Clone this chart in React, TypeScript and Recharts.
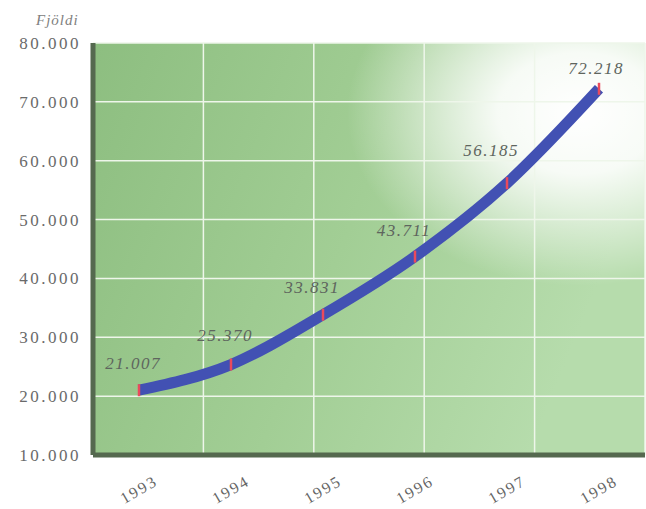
import {
  CartesianGrid,
  LabelList,
  Line,
  LineChart,
  XAxis,
  YAxis,
} from "recharts";

const years = ["1993", "1994", "1995", "1996", "1997", "1998"];
const passengers = [21007, 25370, 33831, 43711, 56185, 72218];
const yTicks = [10000, 20000, 30000, 40000, 50000, 60000, 70000, 80000];
const gridSlots = [0, 1, 2, 3, 4, 5, 6];
// nudges for the value labels, same order as years
const labelShift = [
  [-6, -21],
  [-6, -24],
  [-11, -22],
  [-11, -21],
  [-16, -27],
  [-3, -15],
];

const data = years.map((year, i) => ({ year, value: passengers[i] }));

const SERIF = "Liberation Serif, serif";

function fmt(v: number): string {
  return String(v).replace(/\B(?=(\d{3})+(?!\d))/g, ".");
}

function YTick({ x, y, payload }: any) {
  return (
    <text
      x={x}
      y={y}
      dy={6}
      textAnchor="end"
      fill="#6a6a6a"
      fontSize={17}
      fontFamily={SERIF}
      letterSpacing={2.5}
    >
      {fmt(payload.value)}
    </text>
  );
}

function XTick({ x, y, payload }: any) {
  const ty = y + 27;
  return (
    <text
      x={x}
      y={ty}
      dy={5}
      textAnchor="middle"
      fill="#666"
      fontSize={16}
      fontFamily={SERIF}
      letterSpacing={2}
      transform={`rotate(-30, ${x}, ${ty})`}
    >
      {payload.value}
    </text>
  );
}

function Marker({ cx, cy, index }: any) {
  if (cx == null || cy == null) return null;
  return (
    <line
      key={`m-${index}`}
      x1={cx}
      x2={cx}
      y1={cy - 6}
      y2={cy + 6}
      stroke="#ea4a5c"
      strokeWidth={2.5}
    />
  );
}

function ValueLabel({ x, y, value, index }: any) {
  const [dx, dy] = labelShift[index] ?? [0, -20];
  return (
    <text
      x={x + dx}
      y={y + dy}
      textAnchor="middle"
      fill="#5e655e"
      fontSize={17}
      fontStyle="italic"
      fontFamily={SERIF}
      letterSpacing={1.5}
    >
      {fmt(Number(value))}
    </text>
  );
}

export default function App() {
  return (
    <div
      style={{
        position: "absolute",
        left: 0,
        top: 0,
        width: 646,
        height: 509,
        background: "#ffffff",
      }}
    >
      <div
        style={{
          position: "absolute",
          left: 36,
          top: 12,
          fontFamily: SERIF,
          fontStyle: "italic",
          fontSize: 15,
          color: "#808080",
          letterSpacing: 1,
        }}
      >
        Fjöldi
      </div>
      <LineChart
        width={646}
        height={509}
        data={data}
        margin={{ top: 43, right: 1, left: 0, bottom: 0 }}
      >
        <defs>
          <linearGradient id="plotBg" x1="0" y1="0" x2="1" y2="0.3">
            <stop offset="0%" stopColor="#8dbe80" />
            <stop offset="55%" stopColor="#a2ce95" />
            <stop offset="100%" stopColor="#b6dcac" />
          </linearGradient>
          <radialGradient id="glow" cx="0.88" cy="0.17" r="0.42">
            <stop offset="0%" stopColor="#ffffff" stopOpacity={1} />
            <stop offset="35%" stopColor="#ffffff" stopOpacity={0.9} />
            <stop offset="100%" stopColor="#ffffff" stopOpacity={0} />
          </radialGradient>
        </defs>
        <CartesianGrid
          xAxisId="grid"
          fill="url(#plotBg)"
          horizontal={false}
          vertical={false}
        />
        <CartesianGrid
          xAxisId="grid"
          fill="url(#glow)"
          fillOpacity={1}
          stroke="#eef6ea"
          strokeWidth={1.5}
        />
        <XAxis
          xAxisId="grid"
          type="number"
          domain={[0, 6]}
          ticks={gridSlots}
          hide
        />
        <XAxis
          xAxisId="cat"
          dataKey="year"
          padding={{ left: 46, right: 46 }}
          height={54}
          tickLine={false}
          axisLine={{ stroke: "#55694f", strokeWidth: 5 }}
          tick={<XTick />}
          interval={0}
        />
        <YAxis
          width={93}
          domain={[10000, 80000]}
          ticks={yTicks}
          tickLine={false}
          tickSize={6}
          tickMargin={6}
          axisLine={{ stroke: "#55694f", strokeWidth: 5 }}
          tick={<YTick />}
          interval={0}
        />
        <Line
          xAxisId="cat"
          type="monotone"
          dataKey="value"
          stroke="#4251b3"
          strokeWidth={11}
          dot={<Marker />}
          activeDot={false}
          isAnimationActive={false}
        >
          <LabelList dataKey="value" content={<ValueLabel />} />
        </Line>
      </LineChart>
    </div>
  );
}
